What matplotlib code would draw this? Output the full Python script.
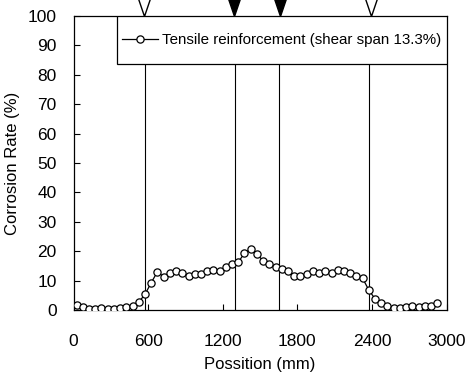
import numpy as np
import matplotlib.pyplot as plt
from matplotlib.patches import Rectangle

plt.rcParams['font.family'] = ['Liberation Sans', 'DejaVu Sans']

# corrosion rate along the beam, one reading every 50 mm
position = np.arange(25, 2950, 50)
corrosion = [1.7, 1.0, 0.4, 0.4, 0.7, 0.3, 0.4, 0.8, 0.9, 1.4,
             2.7, 5.3, 9.3, 13.0, 11.3, 12.5, 13.1, 12.6, 11.6, 12.2,
             12.3, 13.1, 13.6, 13.1, 14.7, 15.7, 16.3, 19.3, 20.8, 19.1,
             16.7, 15.8, 14.7, 14.0, 13.1, 11.7, 11.7, 12.4, 13.1, 12.5,
             13.4, 12.7, 13.6, 13.2, 12.5, 11.6, 10.8, 6.8, 3.8, 2.3,
             1.2, 0.8, 0.8, 0.9, 1.4, 0.9, 1.2, 1.2, 2.5]

support_lines = [575, 2375]
load_lines = [1300, 1650]
support_marks = [565, 2395]
load_marks = [1290, 1660]

xticks = [0, 600, 1200, 1800, 2400, 3000]
yticks = np.arange(0, 101, 10)

fig = plt.figure(figsize=(4.73, 3.80), dpi=100)
ax = fig.add_axes([0.1554, 0.1842, 0.7886, 0.7737])

for xv in support_lines + load_lines:
    ax.axvline(xv, color='black', lw=0.8, zorder=1)

ax.plot(position, corrosion, '-o', color='black', lw=0.9, markersize=5.2,
        markerfacecolor='white', markeredgecolor='black', markeredgewidth=0.9,
        label='Tensile reinforcement (shear span 13.3%)', zorder=3)

tri = [(0, 0), (-0.34, 1), (0.34, 1), (0, 0)]
ax.plot(support_marks, [100, 100], ls='none', marker=tri, markersize=30,
        markerfacecolor='white', markeredgecolor='black', markeredgewidth=1,
        clip_on=False, zorder=5)
ax.plot(load_marks, [100, 100], ls='none', marker=tri, markersize=30,
        markerfacecolor='black', markeredgecolor='black', markeredgewidth=1,
        clip_on=False, zorder=5)

ax.set_xlim(0, 3000)
ax.set_ylim(0, 100)
ax.set_xticks(xticks)
ax.set_yticks(yticks)
ax.tick_params(direction='in', length=4, width=0.8, labelsize=12.5)
ax.tick_params(axis='y', pad=12)
ax.tick_params(axis='x', pad=17.5)
for s in ax.spines.values():
    s.set_linewidth(0.9)

ax.set_xlabel('Possition (mm)', fontsize=12, labelpad=5.5)
ax.set_ylabel('Corrosion Rate (%)', fontsize=12, labelpad=6)

# legend box: wide and tall, drawn by hand
box = Rectangle((0.1154, 0.837), 0.8846, 0.163, transform=ax.transAxes,
                facecolor='white', edgecolor='black', lw=0.9, zorder=4)
ax.add_patch(box)
leg = ax.legend(loc='center', bbox_to_anchor=(0.5577, 0.9185), borderaxespad=0,
                fontsize=10.9, frameon=False, borderpad=0,
                handlelength=2.4, handletextpad=0.27)
leg.set_zorder(4.5)

fig.savefig('out.png', dpi=100)
